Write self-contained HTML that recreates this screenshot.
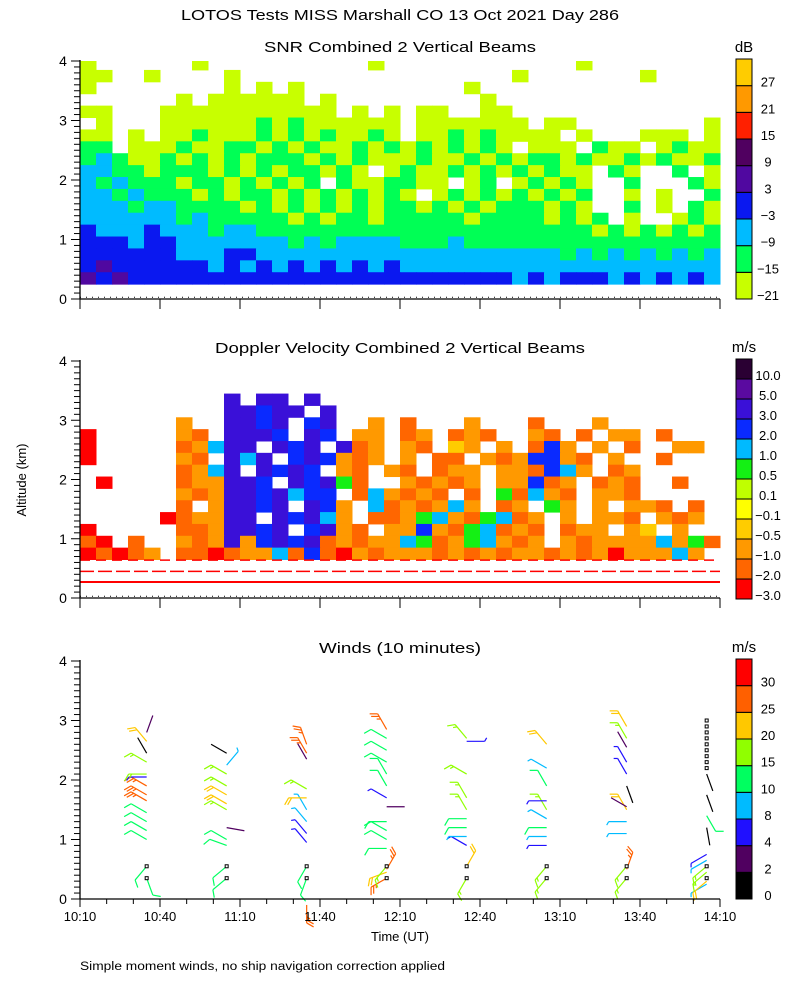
<!DOCTYPE html>
<html><head><meta charset="utf-8"><title>LOTOS Tests MISS Marshall CO</title>
<style>
html,body{margin:0;padding:0;background:#fff;}
svg{display:block;font-family:"Liberation Sans",sans-serif;}
</style></head>
<body>
<svg id="fig" xmlns="http://www.w3.org/2000/svg" width="800" height="1000" viewBox="0 0 800 1000">
<rect x="0" y="0" width="800" height="1000" fill="#fff"/>
<text x="181" y="20" font-size="15" textLength="438" lengthAdjust="spacingAndGlyphs">LOTOS Tests MISS Marshall CO  13 Oct 2021 Day 286</text>
<text x="264" y="52" font-size="15" textLength="272" lengthAdjust="spacingAndGlyphs">SNR Combined 2 Vertical Beams</text>
<text x="215" y="353" font-size="15" textLength="370" lengthAdjust="spacingAndGlyphs">Doppler Velocity Combined 2 Vertical Beams</text>
<text x="319" y="653" font-size="15" textLength="162" lengthAdjust="spacingAndGlyphs">Winds (10 minutes)</text>
<text x="0" y="0" font-size="13" text-anchor="middle" transform="translate(26,480) rotate(-90)">Altitude (km)</text>
<text x="400" y="941" font-size="13" text-anchor="middle">Time (UT)</text>
<text x="80" y="970" font-size="11.5" textLength="365" lengthAdjust="spacingAndGlyphs">Simple moment winds, no ship navigation correction applied</text>
<g id="layers"></g>
</svg>
<script>
// ---------- data ----------
const snrLevels = ['-21','-15','-9','-3','3','9','15','21','27'];
const snrColors = ['#c8ff00','#00ff55','#00bbff','#0a18f0','#5008a0','#500060','#ff2000','#ff9900','#ffcc00'];
const dopLevels = ['-3.0','-2.0','-1.0','-0.5','-0.1','0.1','0.5','1.0','2.0','3.0','5.0','10.0'];
const dopColors = ['#ff0000','#ff6600','#ff9900','#ffcc00','#ffff00','#c0ff00','#14f014','#00baff','#0a2aff','#3a10d8','#5a0aa0','#2a0033'];
const windLevels = ['0','2','4','8','10','15','20','25','30'];
const windColors = ['#000000','#500060','#2010ff','#00bbff','#00ff60','#90ff00','#ffc800','#ff6000','#ff0000'];
const windBins = [0,2,4,8,10,15,20,25,30];
const xTickLabels = ['10:10','10:40','11:10','11:40','12:10','12:40','13:10','13:40','14:10'];
const yTickLabels = ['0','1','2','3','4'];
// heatmap grid: 40 time columns (6 min each), rows of 0.2 km from top (3.85 km) to bottom (0.25 km)
const snrRows = [
"1000000100000000001000000000000100000000",
"1100100001000000000000000001000000010000",
"1000000001010100000000001000000000000000",
"0000001011111101000000000100000000000000",
"1100011111111111010101100110000000000000",
"0100011111121211111101111111011000000001",
"1101011211121212112101121211110100011101",
"2201112112212121121212121210111021101211",
"2321121212122212121112112121221211212112",
"3322122212121221210121121212121102100201",
"3232221221212120211221101201212100200021",
"3323222121221212121210121212121200101002",
"3332332222121212121221212122212100201021",
"3333332322222121221222221222212120100121",
"4333433323322222222222222222222212121212",
"4443443333333232333322232222222222222222",
"4444443334433333333333333333332323232323",
"4544444434343434343433333333333333333333",
"5454444444444444444444444443434443434343"
];
const dopRows = [
"0000000000000000000000000000000000000000",
"0000000000000000000000000000000000000000",
"0000000000000000000000000000000000000000",
"000000000a0aa0a0000000000000000000000000",
"000000000aa9aa0a000000000000000000000000",
"000000300aa9a09a003020003000200030000000",
"100000320aaa90a9033023023200320203302000",
"100000238aa0a9a0a230320430302930302003300",
"100000320a8a09a9323030220323993203002000",
"000000238a0a9a90320320233033298302300000",
"010000233aa90a9a720032323033923023200200",
"000000323aa9a899028323202072832033200000",
"000000203aa9a0a9308232383023073030332020",
"000001233aa0a9a8302237832782303033203230",
"100000223aa9a09a320339327823202330340300",
"210200323a39a9a2323387237832303233338372",
"121230221233829213233323232332323133383",
"0000000000000000000000000000000000000000",
"0000000000000000000000000000000000000000"
];
// wind profiles: minutes after 10:10, then per-profile altitude (km), speed (m/s), direction (deg, staff pointing)
const windTimes = [25,55,85,115,145,175,205,235];
const windAlt = [
[0.35,0.55,1.0,1.15,1.3,1.45,1.65,1.75,1.9,2.05,2.1,2.3,2.45,2.65,2.8],
[0.35,0.55,0.9,1.0,1.2,1.5,1.6,1.75,1.9,2.1,2.25,2.45],
[-0.1,0.35,0.55,0.95,1.1,1.3,1.5,1.7,1.85,2.35,2.45,2.6],
[0.35,0.45,0.55,0.5,0.85,1.0,1.15,1.3,1.55,1.7,1.9,2.1,2.3,2.5,2.7,2.85],
[0.35,0.55,0.9,1.05,1.2,1.35,1.5,1.7,2.1,2.65,2.7],
[0.35,0.55,0.9,1.05,1.2,1.35,1.5,1.65,1.9,2.2,2.6],
[0.35,0.55,0.5,1.1,1.3,1.5,1.55,1.9,2.1,2.3,2.55,2.7,2.9],
[0.25,0.3,0.45,0.55,0.65,0.75,1.2,1.4,1.75,2.1]
];
const windSpd = [
[12,12,12,12,13,12,26,26,25,5,16,16,1,22,3],
[12,12,12,12,3,16,22,22,16,16,9,1],
[26,12,12,5,5,9,9,21,16,3,27,26],
[26,22,17,27,10,10,12,13,3,5,12,12,12,12,12,26],
[16,22,6,9,12,12,16,16,16,6,15],
[16,16,5,9,12,9,16,5,12,9,22],
[17,17,27,9,9,22,3,1,5,5,3,17,22],
[9,22,17,17,9,5,1,12,1,1]
];
const windDir = [
[160,220,300,300,300,300,300,300,300,270,270,300,330,320,20],
[230,230,290,300,100,300,300,300,300,300,40,300],
[180,200,210,320,320,320,330,270,300,330,330,340],
[240,250,220,30,270,300,300,270,90,300,330,330,300,300,300,330],
[210,30,300,270,270,270,330,330,300,90,320],
[220,220,270,270,270,300,330,270,330,300,320],
[220,220,20,270,270,330,300,160,330,330,330,330,330],
[240,230,230,230,240,240,170,150,160,160]
];
const missingAlt = [0.35,0.55];
const missingAltLast = [2.2,2.3,2.4,2.5,2.6,2.7,2.8,2.9,3.0];

// ---------- layout ----------
const NS = 'http://www.w3.org/2000/svg';
const L = document.getElementById('layers');
const X0 = 80, X1 = 720, T_SPAN = 240;
const panels = [{base:299,top:61},{base:598,top:361},{base:899,top:661}];
function xScale(min){ return X0 + min*(X1-X0)/T_SPAN; }
function yScale(p, alt){ const P = panels[p]; return P.base - alt*(P.base-P.top)/4; }
function el(tag, attrs, parent){ const e = document.createElementNS(NS, tag); for (const k in attrs) e.setAttribute(k, attrs[k]); (parent||L).appendChild(e); return e; }
function lvl(ch){ return parseInt(ch, 16); }

// ---------- heatmaps ----------
function drawHeat(p, rows, colors, name){
  const g = el('g', {});
  
  
  const nr = rows.length;
  rows.forEach((row, r) => {
    const altBot = 0.25 + (nr-1-r)*0.2;
    const altTop = Math.min(4, altBot + 0.2);
    for (let c = 0; c < 40; c++){
      const v = lvl(row[c] || '0');
      if (!v) continue;
      const x = xScale(c*6), w = xScale((c+1)*6) - x;
      const y = yScale(p, altTop), h = yScale(p, altBot) - y;
      const rc = el('rect', {x:x, y:y, width:w+0.5, height:h+0.5, fill:colors[v-1]}, g);
      
      
    }
  });
}
drawHeat(0, snrRows, snrColors, 'snr-heatmap');
drawHeat(1, dopRows, dopColors, 'doppler-heatmap');

// low-level doppler lines
[[0.27,'none',2],[0.45,'14,4',1.5],[0.64,'10,6',1.5]].forEach(d => {
  const ln = el('line', {x1:X0, x2:X1, y1:yScale(1,d[0]), y2:yScale(1,d[0]), stroke:'#ff0000', 'stroke-width':d[2], 'stroke-dasharray':d[1]});
  
  
});

// dotted zero lines
[0,1].forEach(p => {
  const ln = el('line', {x1:X0, x2:X1, y1:yScale(p,0.03), y2:yScale(p,0.03), stroke:'#000', 'stroke-width':1, 'stroke-dasharray':'1,5'});
  
  
});

// ---------- wind barbs ----------
function spdColor(s){ let i = 0; for (let k=0;k<windBins.length;k++) if (s >= windBins[k]) i = k; return windColors[i]; }
windTimes.forEach((t, g) => {
  const sx = xScale(t);
  const grp = el('g', {});
  
  
  windAlt[g].forEach((a, i) => {
    const s = windSpd[g][i], d = windDir[g][i]*Math.PI/180, col = spdColor(s);
    const sy = yScale(2, a);
    const len = 18;
    const ex = sx + Math.sin(d)*len, ey = sy - Math.cos(d)*len;
    const b = el('g', {stroke:col, 'stroke-width':1.2, fill:'none'}, grp);
    
    
    el('line', {x1:sx, y1:sy, x2:ex, y2:ey}, b);
    let n10 = Math.floor(s/10), half = (s%10) >= 5 ? 1 : 0;
    const bd = d - Math.PI/3;
    let k = 0;
    for (let j=0;j<n10+half;j++){
      const bl = j < n10 ? 8 : 4;
      const px = ex - Math.sin(d)*3*k, py = ey + Math.cos(d)*3*k;
      el('line', {x1:px, y1:py, x2:px+Math.sin(bd)*bl, y2:py-Math.cos(bd)*bl}, b);
      k++;
    }
  });
  const miss = g === windTimes.length-1 ? missingAlt.concat(missingAltLast) : missingAlt;
  miss.forEach(a => {
    const sq = el('rect', {x:sx-1.5, y:yScale(2,a)-1.5, width:3, height:3, fill:'#fff', stroke:'#000', 'stroke-width':1}, grp);
    
    
  });
});

// ---------- axes ----------
panels.forEach((P, p) => {
  const ax = el('g', {stroke:'#000', 'stroke-width':1.3});
  
  
  el('line', {x1:X0, y1:P.top-1, x2:X0, y2:P.base}, ax);
  el('line', {x1:X0, y1:P.base, x2:X1, y2:P.base}, ax);
  for (let i=0;i<=40;i++){
    const y = yScale(p, i/10);
    el('line', {x1:X0-(i%10===0?9:6), y1:y, x2:X0, y2:y, 'stroke-width':1}, ax);
  }
  yTickLabels.forEach((lab, i) => {
    const tx = el('text', {x:63, y:yScale(p,i)+5, 'font-size':14, 'text-anchor':'middle', stroke:'none', fill:'#000'});
    tx.textContent = lab;
    
    
  });
  for (let m=0;m<=T_SPAN;m+=10){
    const x = xScale(m), major = m%30===0;
    if (p < 2 && !major) continue;
    el('line', {x1:x, y1:P.base, x2:x, y2:P.base + (p<2 ? 10 : (major?8:5)), 'stroke-width':1}, ax);
  }
});
xTickLabels.forEach((lab, i) => {
  const tx = el('text', {x:xScale(i*30), y:921, 'font-size':13, 'text-anchor':'middle'});
  tx.textContent = lab;
  
  
});

// ---------- colorbars ----------
function colorbar(top, bottom, colors, labels, unit, name){
  const g = el('g', {});
  
  
  const n = colors.length, h = (bottom-top)/n;
  colors.forEach((c, i) => {
    const y = bottom - (i+1)*h;
    const r = el('rect', {x:736, y:y, width:16, height:h, fill:c, stroke:'#000', 'stroke-width':1}, g);
    
    
    const t = el('text', {x:768, y:y+h+1, 'font-size':13, 'text-anchor':'middle'}, g);
    t.textContent = labels[i].replace('-', '\u2212');
    
    
  });
  const u = el('text', {x:744, y:top-7, 'font-size':15, 'text-anchor':'middle'}, g);
  u.textContent = unit;
  
  
}
colorbar(59, 299, snrColors, snrLevels, 'dB', 'snr-colorbar');
colorbar(359, 599, dopColors, dopLevels, 'm/s', 'doppler-colorbar');
colorbar(659, 899, windColors, windLevels, 'm/s', 'wind-colorbar');
</script>
</body></html>
